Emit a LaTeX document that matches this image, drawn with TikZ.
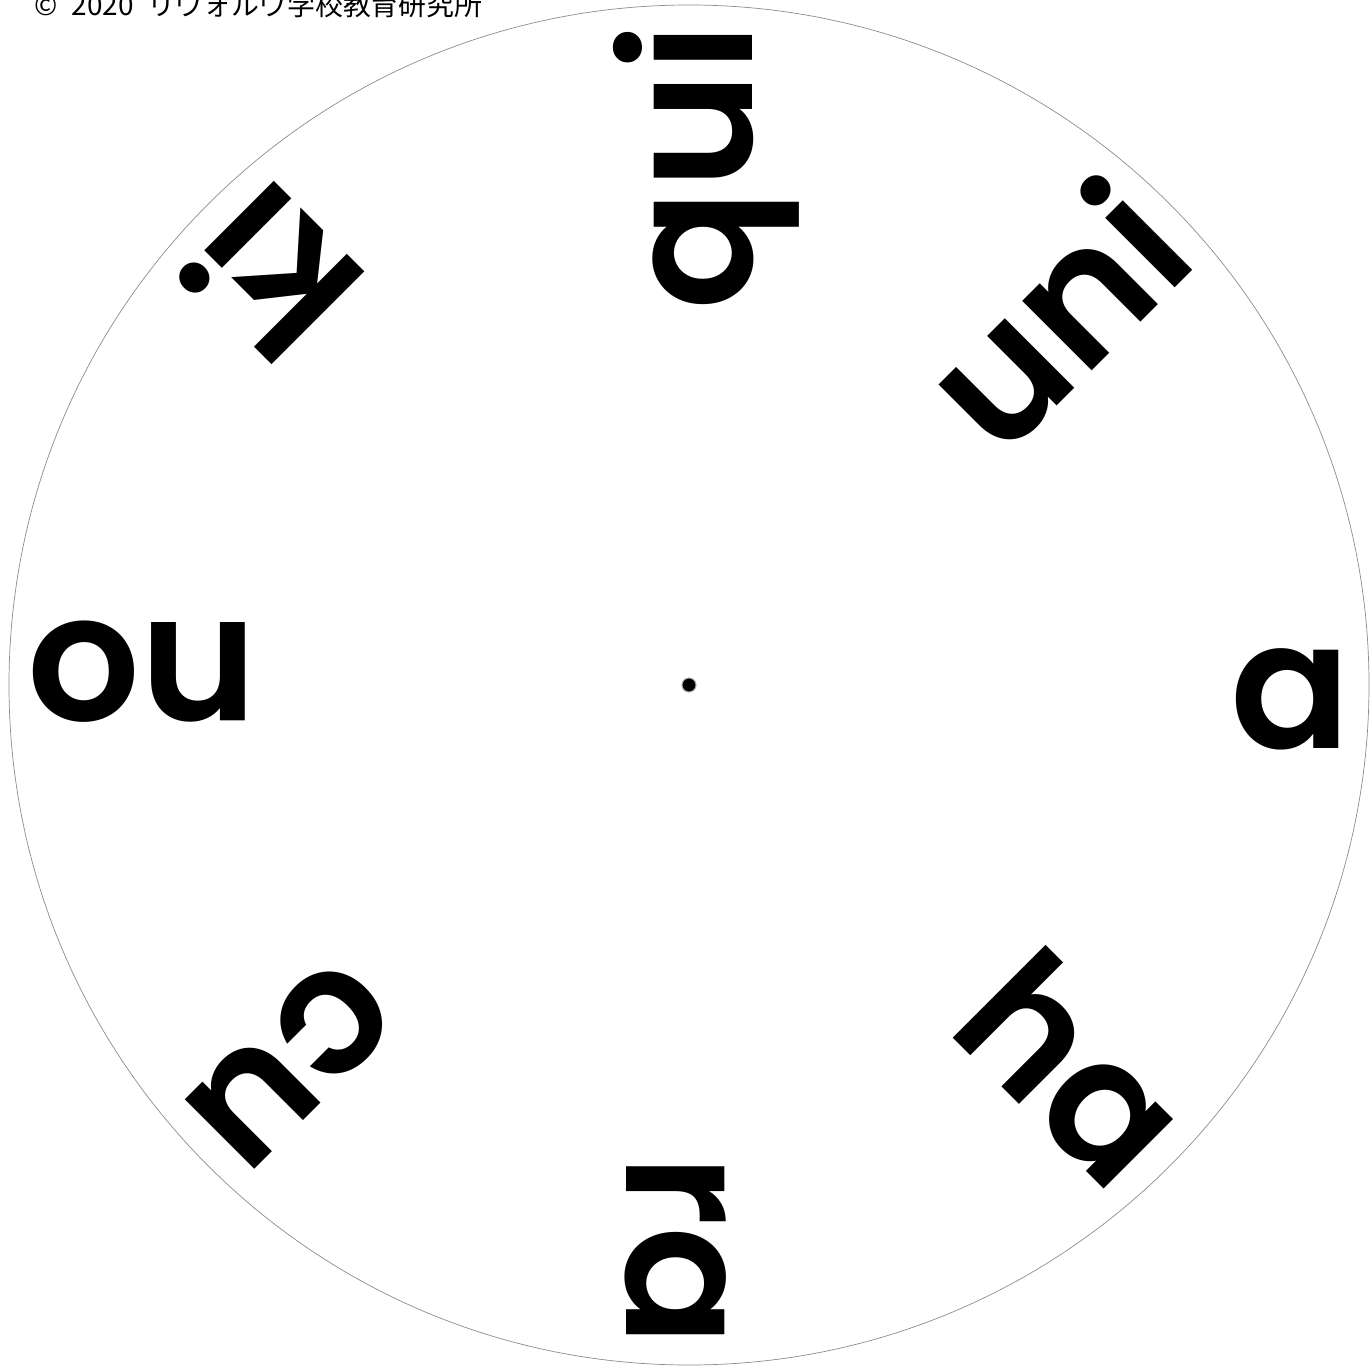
\documentclass[tikz,border=0pt]{standalone}
\usepackage{fontspec}
\IfFontExistsTF{Poppins SemiBold}
  {\newfontfamily\lblfont{Poppins SemiBold}\newcommand\lblweight{}}
  {\newfontfamily\lblfont{Poppins}\newcommand\lblweight{\bfseries}}
\newfontfamily\jpfont{Noto Sans CJK JP}
\begin{document}
\begin{tikzpicture}[x=0.02cm,y=0.02cm,
  lbl/.style={font=\lblfont\lblweight\fontsize{101}{104}\selectfont, inner sep=0pt, anchor=base east, transform shape},
  rim/.style={draw=black!45, line width=0.4pt},
  hubdot/.style={circle, fill=black, draw=black!35, line width=0.6pt, minimum size=0.28cm, inner sep=0pt},
  credit/.style={anchor=base west, inner sep=0pt, font=\jpfont\fontsize{15.9}{18}\selectfont}]
\useasboundingbox (-689,-684) rectangle (682,685);
\draw[rim] (0,0) circle (680);
\node[hubdot] (hub) at (0,0) {};
\foreach \ang/\txt/\nm in {0/a/la, -45/ha/lha, -90/ra/lra, -135/cu/lcu, 180/no/lno, 135/ki/lki, 90/qui/lqui, 45/uni/luni} {
  \begin{scope}[rotate=\ang]
    \node[lbl] (\nm) at (662,-63) {\txt};
  \end{scope}
}
\node[credit] (copy) at (-655,669) {©\hspace{0.5em}2020\hspace{0.5em}リヴォルヴ学校教育研究所};
\end{tikzpicture}
\end{document}
